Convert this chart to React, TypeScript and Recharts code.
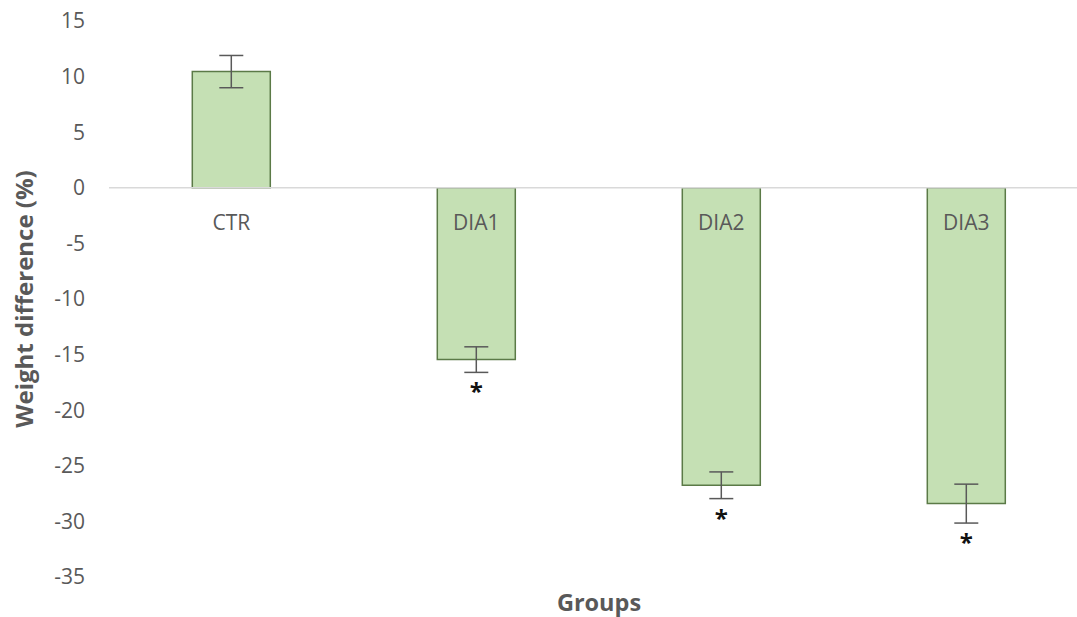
import React from "react";
import { BarChart, Bar, XAxis, YAxis, ErrorBar, ReferenceLine, LabelList, Label } from "recharts";

const categories = ["CTR", "DIA1", "DIA2", "DIA3"];
const values = [10.45, -15.45, -26.75, -28.4];
const errors = [1.45, 1.15, 1.2, 1.75];
const significant = [false, true, true, true];
const yTicks = [-35, -30, -25, -20, -15, -10, -5, 0, 5, 10, 15];

const data = categories.map((c, i) => ({ name: c, value: values[i], err: errors[i], sig: significant[i] }));

const FONT = "'Open Sans', sans-serif";
const GREY = "#595959";

const CatLabel = (props: any) => {
  const { x, y, width, height, index } = props;
  const top = Math.min(y, y + height);
  const bottom = Math.max(y, y + height);
  const v = values[index];
  const zero = v >= 0 ? bottom : top;
  return (
    <text x={x + width / 2} y={zero + 34} textAnchor="middle" dominantBaseline="central" fill={GREY} fontSize={21} fontFamily={FONT}>
      {categories[index]}
    </text>
  );
};

const StarLabel = (props: any) => {
  const { x, y, width, height, index } = props;
  if (!significant[index]) return null;
  const v = values[index];
  const h = Math.abs(height);
  const ppu = h / Math.abs(v);
  const top = Math.min(y, y + height);
  const errBottom = top + (Math.abs(v) + errors[index]) * ppu;
  return (
    <text x={x + width / 2} y={errBottom + 28} textAnchor="middle" fill="#111" fontSize={24} fontWeight="bold" fontFamily={FONT}>
      *
    </text>
  );
};

export default function App() {
  return (
    <div style={{ position: "fixed", left: 0, top: 0, width: 1077, height: 617, overflow: "hidden", background: "#fff" }}>
      <BarChart width={1100} height={617} data={data} margin={{ top: 21, right: 11, left: 1, bottom: 0 }} barCategoryGap="34%">
        <XAxis dataKey="name" axisLine={false} tickLine={false} tick={false} height={40}>
          <Label value="Groups" position="center" dy={6} style={{ fill: GREY, fontSize: 23.5, fontWeight: 700, fontFamily: FONT }} />
        </XAxis>
        <YAxis
          domain={[-35, 15]}
          ticks={yTicks}
          axisLine={false}
          tickLine={false}
          tickSize={0}
          tickMargin={24}
          width={108}
          interval={0}
          tick={{ fill: GREY, fontSize: 21, fontFamily: FONT }}
        >
          <Label value="Weight difference (%)" angle={-90} position="insideLeft" offset={23} style={{ textAnchor: "middle", fill: GREY, fontSize: 24, fontWeight: 700, fontFamily: FONT }} />
        </YAxis>
        <ReferenceLine y={0} stroke="#d9d9d9" strokeWidth={1.5} />
        <Bar dataKey="value" fill="#c5e0b4" stroke="#5b7a47" strokeWidth={1.5} isAnimationActive={false}>
          <ErrorBar dataKey="err" width={12} stroke={GREY} strokeWidth={1.5} />
          <LabelList dataKey="value" content={<CatLabel />} />
          <LabelList dataKey="value" content={<StarLabel />} />
        </Bar>
      </BarChart>
    </div>
  );
}
